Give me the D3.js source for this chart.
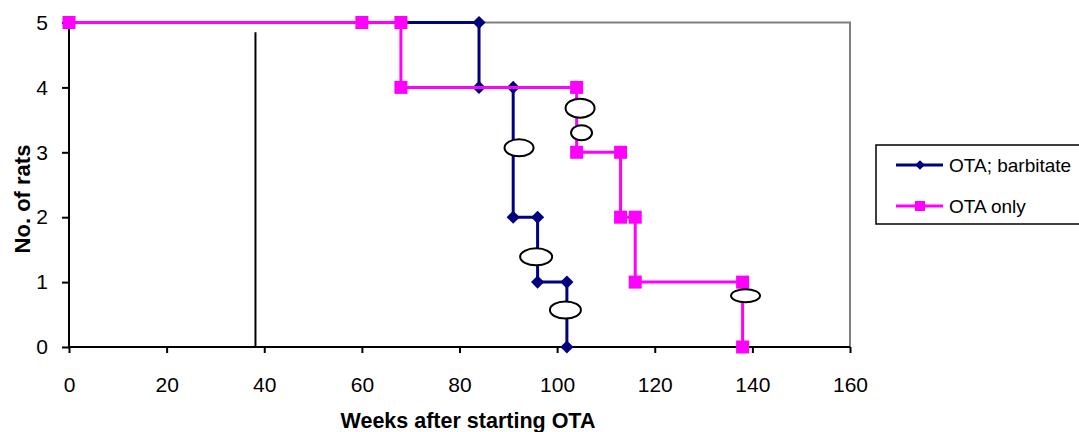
<!DOCTYPE html>
<html>
<head>
<meta charset="utf-8">
<script src="https://cdn.jsdelivr.net/npm/d3@7"></script>
<style>
  html, body { margin: 0; padding: 0; background: #fff; }
  svg { display: block; font-family: "Liberation Sans", Arial, sans-serif; }
</style>
</head>
<body>
<svg id="chart" width="1079" height="432"></svg>
<script>
// ---- data ----
const seriesNames = ["OTA; barbitate", "OTA only"];
const barbWeeks = [0, 84, 84, 91, 91, 96, 96, 102, 102];
const barbRats  = [5, 5, 4, 4, 2, 2, 1, 1, 0];
const onlyWeeks = [0, 60, 68, 68, 104, 104, 113, 113, 116, 116, 138, 138];
const onlyRats  = [5, 5, 5, 4, 4, 3, 3, 2, 2, 1, 1, 0];
// censored observations (open ovals)
const censorWeeks = [92.2, 95.7, 101.7, 104.7, 105.0, 138.6];
const censorRats  = [3.07, 1.39, 0.57, 3.68, 3.30, 0.79];
// reference line
const refLineWeek = 38.2;
const refLineTop = 4.85;
const xTicks = [0, 20, 40, 60, 80, 100, 120, 140, 160];
const yTicks = [0, 1, 2, 3, 4, 5];

// ---- styles ----
const ovalSizes = [[14.5, 8.5], [16, 8.5], [15.5, 8.5], [14.5, 9.5], [10.5, 7.5], [14.5, 6.5]];
const navy = "#000080", pink = "#FF00FF";

const svg = d3.select("#chart");
const x = d3.scaleLinear().domain([0, 160]).range([69, 850]);
const y = d3.scaleLinear().domain([0, 5]).range([347, 22.5]);

// plot border (top & right gray)
svg.append("path")
  .attr("d", `M${x(0)},${y(5)}H${x(160)}V${y(0)}`)
  .attr("fill", "none").attr("stroke", "#808080").attr("stroke-width", 2);

// axes
const xAxis = svg.append("g").attr("transform", `translate(0,${y(0)})`)
  .call(d3.axisBottom(x).tickValues(xTicks).tickSize(6).tickPadding(24).tickFormat(d3.format("d")));
const yAxis = svg.append("g").attr("transform", `translate(${x(0)},0)`)
  .call(d3.axisLeft(y).tickValues(yTicks).tickSize(7).tickPadding(14).tickFormat(d3.format("d")));
[xAxis, yAxis].forEach(g => {
  g.select(".domain").attr("stroke", "#000").attr("stroke-width", 2);
  g.selectAll(".tick line").attr("stroke", "#000").attr("stroke-width", 2);
  g.selectAll(".tick text").attr("fill", "#000")
    .style("font-size", "21px").style("font-family", "'Liberation Sans', Arial, sans-serif");
});
xAxis.select(".domain").attr("d", `M${x(0)},0H${x(160)}`);
yAxis.select(".domain").attr("d", `M0,${y(0)}V${y(5)}`);

// vertical reference line
svg.append("line")
  .attr("x1", x(refLineWeek)).attr("x2", x(refLineWeek))
  .attr("y1", y(refLineTop)).attr("y2", y(0))
  .attr("stroke", "#000").attr("stroke-width", 2);

const line = d3.line().x(d => x(d[0])).y(d => y(d[1]));
const barb = barbWeeks.map((w, i) => [w, barbRats[i]]);
const only = onlyWeeks.map((w, i) => [w, onlyRats[i]]);

// navy series (drawn first)
svg.append("path").datum(barb).attr("d", line)
  .attr("fill", "none").attr("stroke", navy).attr("stroke-width", 3);
svg.selectAll(".dia").data(barb).enter().append("path")
  .attr("d", d3.symbol().type(d3.symbolDiamond2).size(110)())
  .attr("transform", d => `translate(${x(d[0])},${y(d[1])})`)
  .attr("fill", navy);

// pink series
svg.append("path").datum(only).attr("d", line)
  .attr("fill", "none").attr("stroke", pink).attr("stroke-width", 3);
svg.selectAll(".sq").data(only).enter().append("rect")
  .attr("x", d => x(d[0]) - 6.5).attr("y", d => y(d[1]) - 6.5)
  .attr("width", 13).attr("height", 13).attr("fill", pink);

// censor ovals
svg.selectAll(".oval").data(censorWeeks).enter().append("ellipse")
  .attr("cx", (d, i) => x(d)).attr("cy", (d, i) => y(censorRats[i]))
  .attr("rx", (d, i) => ovalSizes[i][0]).attr("ry", (d, i) => ovalSizes[i][1])
  .attr("fill", "#fff").attr("stroke", "#000").attr("stroke-width", 2);

// axis titles
svg.append("text").attr("x", 468).attr("y", 428).attr("text-anchor", "middle")
  .style("font-size", "21.5px").style("font-weight", "bold").text("Weeks after starting OTA");
svg.append("text").attr("transform", "translate(30,199) rotate(-90)").attr("text-anchor", "middle")
  .style("font-size", "22px").style("font-weight", "bold").text("No. of rats");

// legend
svg.append("rect").attr("x", 876).attr("y", 145).attr("width", 220).attr("height", 79)
  .attr("fill", "#fff").attr("stroke", "#000").attr("stroke-width", 1.5);
const legY = [165, 206];
const legColors = [navy, pink];
seriesNames.forEach((name, i) => {
  const g = svg.append("g");
  g.append("line").attr("x1", 896).attr("x2", 943).attr("y1", legY[i]).attr("y2", legY[i])
    .attr("stroke", legColors[i]).attr("stroke-width", 3);
  if (i === 0) {
    g.append("path").attr("d", d3.symbol().type(d3.symbolDiamond2).size(60)())
      .attr("transform", `translate(920,${legY[i]})`).attr("fill", navy);
  } else {
    g.append("rect").attr("x", 915).attr("y", legY[i] - 5).attr("width", 10).attr("height", 10).attr("fill", pink);
  }
  g.append("text").attr("x", 949).attr("y", legY[i] + 7).style("font-size", "19px").attr("fill", "#000").text(name);
});
</script>
</body>
</html>
